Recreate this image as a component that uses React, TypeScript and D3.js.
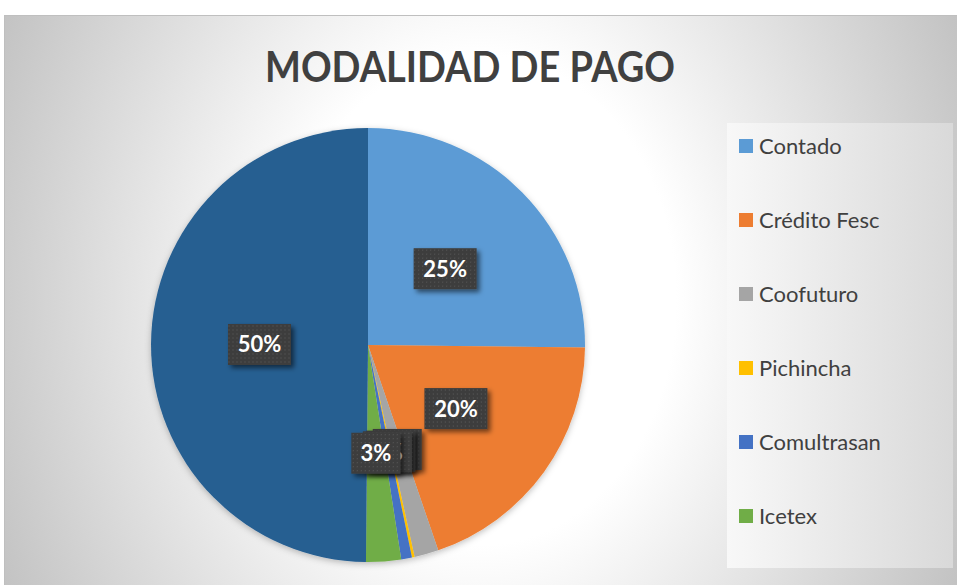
import React from 'react';
import * as d3 from 'd3';

// values (percent of respondents)
const categories = ['Contado', 'Crédito Fesc', 'Coofuturo', 'Pichincha', 'Comultrasan', 'Icetex', 'Otros'];
const values = [25.2, 19.6, 1.8, 0.2, 0.8, 2.6, 49.9];
const colors = ['#5B9BD5', '#ED7D31', '#A5A5A5', '#FFC000', '#4472C4', '#70AD47', '#255E91'];
const title = 'MODALIDAD DE PAGO';

const W = 957;
const H = 585;

const App = () => {
  const cx = 368;
  const cy = 345;
  const r = 217;

  const total = d3.sum(values);
  const data = categories.map((c, i) => ({ name: c, value: values[i], color: colors[i] }));
  const pie = d3.pie<any>().sort(null).value(d => d.value);
  const arcs = pie(data);
  const arc = d3.arc<any>().innerRadius(0).outerRadius(r);
  const labelArc = d3.arc<any>().innerRadius(r * 0.5).outerRadius(r * 0.5);
  const fmt = d3.format('.0%');

  // legend
  const legendBox = { x: 727, y: 123, w: 226, h: 445 };
  const legendY = d3.scalePoint<string>().domain(categories).range([146, 146 + 74 * (categories.length - 1)]);
  const legendItems = data.filter(d => (legendY(d.name) as number) + 10 < legendBox.y + legendBox.h);

  return (
    <div style={{ position: 'absolute', left: 0, top: 0 }}>
      <svg width={W} height={H} style={{ display: 'block' }}>
        <defs>
          <radialGradient id="bg" gradientUnits="userSpaceOnUse" cx={480} cy={300} r={1}
            gradientTransform="translate(480,300) scale(560,700) translate(-480,-300)">
            <stop offset="0" stopColor="#ffffff" />
            <stop offset="0.35" stopColor="#ffffff" />
            <stop offset="1" stopColor="#bdbdbd" />
          </radialGradient>
          <linearGradient id="legbg" x1="0" y1="0" x2="1" y2="0">
            <stop offset="0" stopColor="#f8f8f8" />
            <stop offset="1" stopColor="#d9d9d9" />
          </linearGradient>
          <pattern id="dots" width="4" height="4" patternUnits="userSpaceOnUse">
            <rect width="4" height="4" fill="#3e3e3e" />
            <rect x="1" y="1" width="1" height="1" fill="#585858" />
          </pattern>
          <filter id="boxShadow" x="-30%" y="-30%" width="170%" height="180%">
            <feDropShadow dx="3" dy="3" stdDeviation="2.5" floodColor="#000" floodOpacity="0.55" />
          </filter>
          <filter id="pieShadow" x="-10%" y="-10%" width="120%" height="125%">
            <feDropShadow dx="0" dy="2" stdDeviation="3" floodColor="#000" floodOpacity="0.25" />
          </filter>
        </defs>

        <rect x={4.5} y={15.5} width={W} height={H} fill="url(#bg)" stroke="#bfbfbf" />

        <text x={470} y={82} textAnchor="middle" fontFamily="Lato, sans-serif" fontWeight="bold"
          fontSize={42} fill="#404040" textLength={410} lengthAdjust="spacingAndGlyphs">
          {title}
        </text>

        <g transform={`translate(${cx},${cy})`}>
          <g filter="url(#pieShadow)">
            {arcs.map((a, i) => (
              <path key={i} d={arc(a) as string} fill={a.data.color} />
            ))}
          </g>
          {arcs.map((a, i) => {
            const [lx, ly] = labelArc.centroid(a);
            const txt = fmt(a.data.value / total);
            const bw = 14 * txt.length + 21;
            const bh = 41;
            return (
              <g key={i} transform={`translate(${lx},${ly})`}>
                <rect x={-bw / 2} y={-bh / 2} width={bw} height={bh} fill="url(#dots)" filter="url(#boxShadow)" />
                <text textAnchor="middle" dy="0.36em" fontFamily="Lato, sans-serif" fontWeight="bold"
                  fontSize={22} fill="#ffffff">
                  {txt}
                </text>
              </g>
            );
          })}
        </g>

        <rect x={legendBox.x} y={legendBox.y} width={legendBox.w} height={legendBox.h} fill="url(#legbg)" />
        {legendItems.map(d => (
          <g key={d.name} transform={`translate(739,${legendY(d.name)})`}>
            <rect x={0} y={-7} width={14} height={14} fill={d.color} />
            <text x={20} dy="0.36em" fontFamily="Lato, sans-serif" fontSize={22} fill="#404040">
              {d.name}
            </text>
          </g>
        ))}
      </svg>
    </div>
  );
};

export default App;
